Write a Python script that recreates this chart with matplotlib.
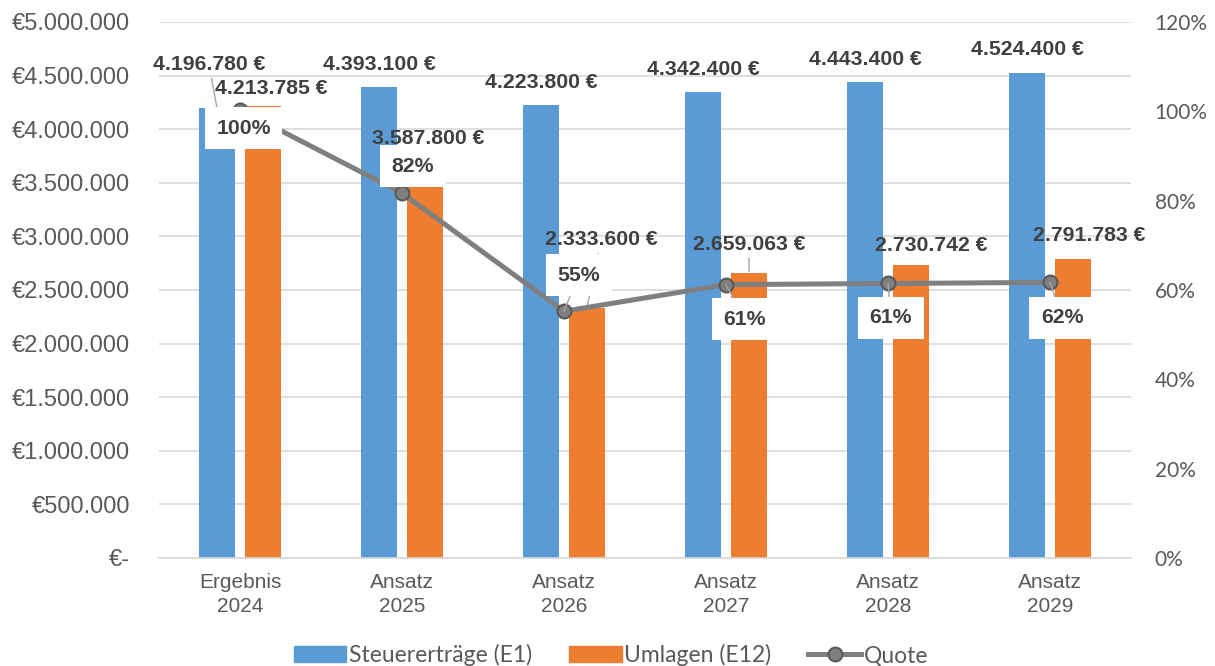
import matplotlib
matplotlib.use("Agg")
import matplotlib.pyplot as plt
from matplotlib.patches import Patch
from matplotlib.lines import Line2D
import numpy as np

# ---- data ----
categories = ["Ergebnis\n2024", "Ansatz\n2025", "Ansatz\n2026", "Ansatz\n2027", "Ansatz\n2028", "Ansatz\n2029"]
steuer = [4196780, 4393100, 4223800, 4342400, 4443400, 4524400]
umlagen = [4213785, 3587800, 2333600, 2659063, 2730742, 2791783]
quote = [1.004, 0.817, 0.5525, 0.612, 0.6146, 0.617]
left_ticks = [0, 500000, 1000000, 1500000, 2000000, 2500000, 3000000, 3500000, 4000000, 4500000, 5000000]
right_ticks = [0, 0.2, 0.4, 0.6, 0.8, 1.0, 1.2]

# label offsets (pixels) and leader flags
blue_off = [(-8, 43.5), (0, 22.5), (0, 23), (0, 23), (0, 22.5), (0, 23.5)]
blue_lead = [True, False, False, False, False, False]
orange_off = [(8, 17.5), (3, 35), (14, 68), (0, 28.5), (20, 20), (16, 23.5)]
orange_lead = [False, False, True, True, False, False]
pct_off = [(3.5, -18.5), (11, 27), (14.5, 36), (19, -34.5), (3, -34.5), (12, -35.5)]
pct_lead = [False, False, True, True, True, True]

BLUE = "#5B9BD5"
ORANGE = "#ED7D31"
GRAY = "#7F7F7F"
TXT = "#404040"
TICK = "#595959"
GRID = "#D9D9D9"
LEAD = "#A6A6A6"

def de_num(v):
    return f"{v:,.0f}".replace(",", ".")

def money_tick(v):
    return "€-" if v == 0 else "€" + de_num(v)

fig = plt.figure(figsize=(12.15, 6.66), dpi=100)
ax = fig.add_axes([159/1215, 1-558/666, (1131-159)/1215, (558-22)/666])
ax2 = ax.twinx()

x = np.arange(len(categories))
w = 0.222
off = 0.142
ax.bar(x - off, steuer, w, color=BLUE, zorder=2)
ax.bar(x + off, umlagen, w, color=ORANGE, zorder=2)

ax.set_xlim(-0.5, len(categories) - 0.5)
ax.set_ylim(0, 5000000)
ax.set_yticks(left_ticks)
ax.set_yticklabels([money_tick(v) for v in left_ticks], fontfamily="Liberation Sans",
                   fontsize=17, color=TICK)
ax.set_xticks(x)
ax.set_xticklabels(categories, fontfamily="Liberation Sans", fontsize=15, color=TICK,
                   linespacing=1.3)
ax.tick_params(axis="y", length=0, pad=21)
ax.tick_params(axis="x", length=0, pad=11)
ax.grid(axis="y", color=GRID, lw=1.2, zorder=0)
ax.set_axisbelow(True)
for s in ["top", "right", "left"]:
    ax.spines[s].set_visible(False)
ax.spines["bottom"].set_color(GRID)
ax.spines["bottom"].set_linewidth(1.2)

ax2.set_ylim(0, 1.2)
ax2.set_yticks(right_ticks)
ax2.set_yticklabels([f"{round(t*100)}%" for t in right_ticks], fontfamily="Lato",
                    fontsize=15, color=TICK)
ax2.tick_params(axis="y", length=0, pad=17)
for s in ["top", "right", "left", "bottom"]:
    ax2.spines[s].set_visible(False)

ax2.plot(x, quote, color=GRAY, lw=3.6, marker="o", ms=10, mfc=GRAY, mec="#595959",
         mew=1.5, zorder=3, solid_capstyle="round")

lab_kw = dict(textcoords="offset pixels", ha="center", va="center", fontsize=15.3,
              fontweight="bold", color=TXT, fontfamily="Liberation Sans")

for i in range(len(categories)):
    arr = dict(arrowstyle="-", color=LEAD, lw=1, shrinkA=1, shrinkB=1)
    ax.annotate(de_num(steuer[i]) + " €", xy=(x[i] - off, steuer[i]), xytext=blue_off[i],
                arrowprops=arr if blue_lead[i] else None, zorder=4, **lab_kw)
    ax.annotate(de_num(umlagen[i]) + " €", xy=(x[i] + off, umlagen[i]), xytext=orange_off[i],
                arrowprops=arr if orange_lead[i] else None, zorder=4, **lab_kw)
    arr2 = dict(arrowstyle="-", color=LEAD, lw=1, shrinkA=0, shrinkB=0)
    ax2.annotate(f"{round(quote[i]*100)}%", xy=(x[i], quote[i]), xytext=pct_off[i],
                 arrowprops=arr2 if pct_lead[i] else None, zorder=5,
                 bbox=dict(boxstyle="square,pad=0.55", fc="white", ec="none"), **lab_kw)

handles = [Patch(color=BLUE, label="Steuererträge (E1)"),
           Patch(color=ORANGE, label="Umlagen (E12)"),
           Line2D([], [], color=GRAY, lw=3.6, marker="o", ms=10, mfc=GRAY, mec="#595959",
                  mew=1.5, label="Quote")]
fig.legend(handles=handles, loc="center", bbox_to_anchor=(611/1215, 1-655/666), ncol=3,
           frameon=False, prop={"family": "Lato", "size": 16.5}, labelcolor=TICK,
           handlelength=2.3, handleheight=0.7, handletextpad=0.12, columnspacing=1.6,
           borderpad=0.2)

fig.savefig("out.png", dpi=100)
